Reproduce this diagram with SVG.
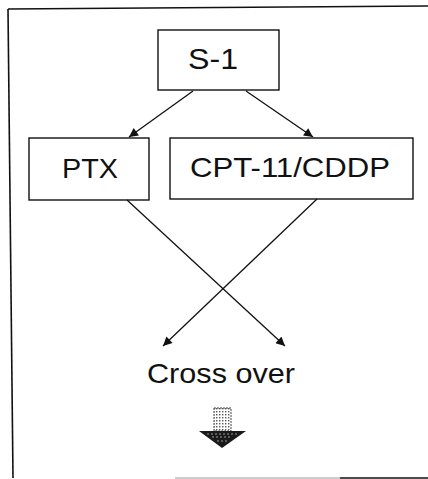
<svg xmlns="http://www.w3.org/2000/svg" width="428" height="479" viewBox="0 0 428 479">
  <defs>
    <style>
      .frame { fill: none; stroke: #111; stroke-width: 1.6; }
      .box { fill: #fff; stroke: #111; stroke-width: 1.4; }
      .label { font-family: "Liberation Sans", Arial, sans-serif; fill: #111; }
      .edge { fill: none; stroke: #111; stroke-width: 1.3; }
    </style>
    <marker id="arrow" viewBox="0 0 10 10" refX="10" refY="5" markerWidth="10" markerHeight="9" markerUnits="userSpaceOnUse" orient="auto">
      <path d="M0,0 L10,5 L0,10 Z" fill="#111"/>
    </marker>
    <pattern id="dots" width="3" height="3" patternUnits="userSpaceOnUse">
      <rect width="3" height="3" fill="#fff"/>
      <rect x="0" y="0" width="1.4" height="1.4" fill="#555"/>
    </pattern>
  </defs>

  <!-- page frame (open on the right) -->
  <g id="frame">
    <path class="frame" d="M8,9 L428,6"/>
    <path class="frame" d="M8,9 L13,478"/>
    <path d="M175,478 L340,478" stroke="#bbb" stroke-width="1.4"/>
    <path d="M340,478 L428,478" stroke="#111" stroke-width="1.6"/>
  </g>

  <g id="node-s1">
    <rect class="box" x="158" y="30" width="121" height="60"/>
    <text class="label" x="188" y="69" font-size="30" textLength="50" lengthAdjust="spacingAndGlyphs">S-1</text>
  </g>

  <g id="node-ptx">
    <rect class="box" x="29" y="138" width="120" height="62"/>
    <text class="label" x="62" y="178" font-size="28" textLength="56" lengthAdjust="spacingAndGlyphs">PTX</text>
  </g>

  <g id="node-cpt">
    <rect class="box" x="170" y="138" width="243" height="61"/>
    <text class="label" x="190" y="177" font-size="28" textLength="200" lengthAdjust="spacingAndGlyphs">CPT-11/CDDP</text>
  </g>

  <g id="node-crossover">
    <text class="label" x="147" y="383" font-size="28" textLength="148" lengthAdjust="spacingAndGlyphs">Cross over</text>
  </g>

  <g id="connectors">
    <line class="edge" x1="193" y1="91" x2="129" y2="137" marker-end="url(#arrow)"/>
    <line class="edge" x1="246" y1="91" x2="313" y2="137" marker-end="url(#arrow)"/>
    <line class="edge" x1="127" y1="200" x2="285" y2="346" marker-end="url(#arrow)"/>
    <line class="edge" x1="317" y1="199" x2="163" y2="346" marker-end="url(#arrow)"/>
  </g>

  <!-- block arrow pointing down under "Cross over" -->
  <g id="down-arrow">
    <rect x="214" y="408" width="17" height="23" fill="url(#dots)" stroke="#444" stroke-width="1" stroke-dasharray="2 1"/>
    <path d="M199,431 L246,431 L222,448 Z" fill="#1a1a1a"/>
    <path d="M207,434 L238,434 M212,437 L232,437 M217,441 L227,441" stroke="#bbb" stroke-width="0.8" stroke-dasharray="2 2"/>
  </g>
</svg>
